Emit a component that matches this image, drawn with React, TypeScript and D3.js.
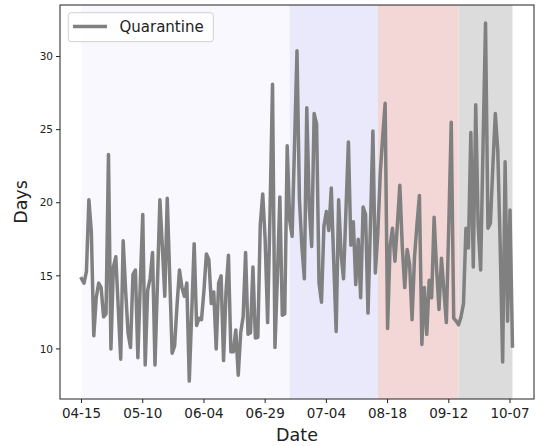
import React from "react";
import * as d3 from "d3";

// Daily quarantine duration (days), one value per day starting 2020-04-15
const startDate = new Date(2020, 3, 15);
const quarantineDays: number[] = [
  14.8, 14.5, 15.3, 20.2, 18.0, 10.9, 13.5, 14.5, 14.2, 12.2,
  12.4, 23.3, 10.0, 15.6, 16.3, 12.8, 9.3, 17.4, 14.0, 11.1,
  10.1, 15.1, 15.4, 9.4, 14.5, 19.2, 8.9, 14.0, 14.8, 16.6,
  8.9, 14.5, 20.2, 17.0, 13.6, 20.3, 15.0, 9.7, 10.2, 13.0,
  15.4, 14.2, 13.6, 14.5, 7.8, 12.5, 17.2, 11.6, 12.1, 12.0,
  14.0, 16.5, 16.1, 13.1, 13.9, 10.0, 14.5, 15.0, 9.2, 13.9,
  16.4, 9.8, 9.8, 11.3, 8.2, 11.1, 12.2, 16.6, 11.0, 11.1,
  15.6, 10.75, 10.8, 18.5, 20.6, 17.45, 11.8, 19.5, 28.1, 10.1,
  15.0, 20.4, 12.3, 12.4, 23.9, 18.8, 17.7, 24.0, 30.4, 20.2,
  17.0, 14.8, 26.5, 19.7, 17.0, 26.1, 25.4, 14.5, 13.2, 18.4,
  19.4, 18.1, 21.0, 16.0, 11.2, 20.2, 16.5, 14.8, 19.5, 24.15,
  17.1, 18.7, 14.4, 17.5, 13.5, 19.7, 19.2, 12.45, 18.5, 24.9,
  15.2, 17.9, 22.0, 24.5, 26.8, 11.4, 17.0, 18.25, 16.0, 18.5,
  21.2, 17.0, 14.2, 16.8, 15.75, 12.0, 16.3, 18.5, 20.5, 10.3,
  14.2, 11.0, 14.7, 13.5, 19.0, 15.5, 12.7, 16.2, 14.0, 11.8,
  18.5, 25.5, 12.1, 11.9, 11.65, 12.2, 13.1, 18.25, 16.9, 24.8,
  15.6, 26.7, 18.4, 15.4, 24.0, 32.3, 18.25, 18.6, 22.5, 26.1,
  23.6, 17.0, 9.1, 22.8, 11.9, 19.5, 10.2,
];

// Policy phases shaded behind the line (start/end dates and fills)
const phaseStarts = ["2020-04-15", "2020-07-09", "2020-08-14", "2020-09-16"];
const phaseEnds = ["2020-07-09", "2020-08-14", "2020-09-16", "2020-10-08"];
const phaseColors = ["#f8f8fe", "#e9e9fb", "#f3d6d6", "#dcdcdc"];

// x-axis ticks every 25 days
const tickDayOffsets = [0, 25, 50, 75, 100, 125, 150, 175];
const tickLabels = ["04-15", "05-10", "06-04", "06-29", "07-04", "08-18", "09-12", "10-07"];

const yTicks = [10, 15, 20, 25, 30];

const W = 536;
const H = 446;
const M = { left: 60, right: 534, top: 5, bottom: 399 };

const parseDate = d3.timeParse("%Y-%m-%d");

export default function App() {
  const dates = quarantineDays.map((_, i) => d3.timeDay.offset(startDate, i));
  const [d0, d1] = d3.extent(dates) as [Date, Date];
  const span = +d1 - +d0;
  const x = d3
    .scaleTime()
    .domain([new Date(+d0 - span * 0.05), new Date(+d1 + span * 0.05)])
    .range([M.left, M.right]);

  const [vMin, vMax] = d3.extent(quarantineDays) as [number, number];
  const vPad = (vMax - vMin) * 0.05;
  const y = d3
    .scaleLinear()
    .domain([vMin - vPad, vMax + vPad])
    .range([M.bottom, M.top]);

  const line = d3
    .line<number>()
    .x((_, i) => x(dates[i]))
    .y((v) => y(v));

  const font = "'DejaVu Sans', sans-serif";

  return (
    <div style={{ position: "fixed", left: 0, top: 0, width: W, height: H, background: "#fff" }}>
      <svg width={W} height={H} style={{ display: "block" }}>
        <rect x={0} y={0} width={W} height={H} fill="#fff" />
        {phaseStarts.map((s, i) => {
          const xa = x(parseDate(s)!);
          const xb = x(parseDate(phaseEnds[i])!);
          return (
            <rect
              key={s}
              x={xa}
              y={M.top}
              width={xb - xa}
              height={M.bottom - M.top}
              fill={phaseColors[i]}
            />
          );
        })}
        <path
          d={line(quarantineDays) ?? ""}
          fill="none"
          stroke="#808080"
          strokeWidth={3.5}
          strokeLinejoin="round"
          strokeLinecap="square"
        />
        {/* frame */}
        <rect
          x={M.left}
          y={M.top}
          width={M.right - M.left}
          height={M.bottom - M.top}
          fill="none"
          stroke="#222"
          strokeWidth={1}
        />
        {/* y axis */}
        {yTicks.map((t) => (
          <g key={t}>
            <line x1={M.left - 4} x2={M.left} y1={y(t)} y2={y(t)} stroke="#222" strokeWidth={1} />
            <text
              x={M.left - 7}
              y={y(t)}
              dy="0.35em"
              textAnchor="end"
              fontFamily={font}
              fontSize={10.5}
              fill="#222"
            >
              {t}
            </text>
          </g>
        ))}
        {/* x axis */}
        {tickDayOffsets.map((off, i) => {
          const xt = x(d3.timeDay.offset(startDate, off));
          return (
            <g key={off}>
              <line x1={xt} x2={xt} y1={M.bottom} y2={M.bottom + 4} stroke="#222" strokeWidth={1} />
              <text
                x={xt}
                y={M.bottom + 19}
                textAnchor="middle"
                fontFamily={font}
                fontSize={13.5}
                fill="#222"
              >
                {tickLabels[i]}
              </text>
            </g>
          );
        })}
        <text
          x={(M.left + M.right) / 2}
          y={441}
          textAnchor="middle"
          fontFamily={font}
          fontSize={17.5}
          fill="#222"
        >
          Date
        </text>
        <text
          transform={`translate(26.5, ${(M.top + M.bottom) / 2}) rotate(-90)`}
          textAnchor="middle"
          fontFamily={font}
          fontSize={17.5}
          fill="#222"
        >
          Days
        </text>
        {/* legend */}
        <g>
          <rect
            x={68.3}
            y={12.7}
            width={145}
            height={29}
            rx={3}
            fill="#fff"
            fillOpacity={0.8}
            stroke="#d0d0d0"
            strokeWidth={1}
          />
          <line x1={73} x2={107} y1={26.5} y2={26.5} stroke="#808080" strokeWidth={3.5} />
          <text x={119.5} y={31.8} fontFamily={font} fontSize={15} fill="#222">
            Quarantine
          </text>
        </g>
      </svg>
    </div>
  );
}
